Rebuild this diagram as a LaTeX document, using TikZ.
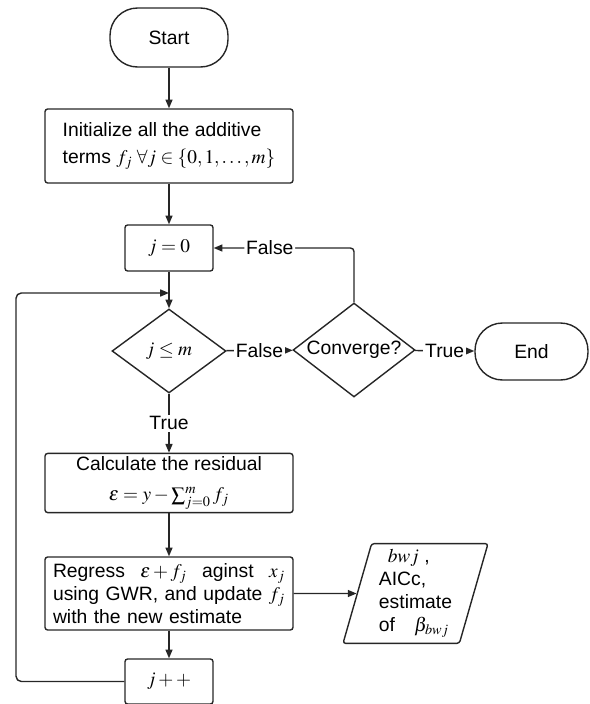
\documentclass[tikz,border=0pt]{standalone}
\usepackage{mathptmx}
\usepackage[no-math]{fontspec}
\setmainfont{Liberation Sans}
\usetikzlibrary{positioning,arrows.meta,shapes.geometric}

\begin{document}
\begin{tikzpicture}[
  x=0.02cm, y=-0.02cm,
  font=\fontsize{11}{13}\selectfont,
  box/.style={rectangle, rounded corners=1.5pt, draw=black!85, line width=0.8pt,
              inner sep=2pt},
  term/.style={rectangle, rounded corners=0.55cm, draw=black!85, line width=0.8pt},
  gate/.style={diamond, draw=black!85, line width=0.8pt, inner sep=0pt},
  io/.style={trapezium, trapezium left angle=74, trapezium right angle=106,
             trapezium stretches body, rounded corners=1.5pt, draw=black!85,
             line width=0.8pt, align=left},
  lbl/.style={fill=white, inner sep=1pt},
  arrow/.style={-{Triangle[length=5pt,width=4pt]}, draw=black!85, line width=0.8pt}
]
\useasboundingbox (0,0) rectangle (590,704);

% Terminals
\node[term, minimum width=2.36cm, minimum height=1.18cm] (start) at (169,37.5) {Start};
\node[term, minimum width=2.26cm, minimum height=1.14cm] (end) at (531.5,351.5) {End};

% Setup
\node[box, minimum width=4.96cm, minimum height=1.48cm, align=left] (init) at (169,146)
  {Initialize all the additive\\[2pt]terms $f_j\;\forall j \in \{0,1,\ldots,m\}$};
\node[box, minimum width=1.76cm, minimum height=0.92cm] (jzero) at (169,248) {$j=0$};

% Gates
\node[gate, aspect=1.36, minimum width=2.28cm, minimum height=1.68cm] (test) at (169,351) {$j \le m$};
\node[gate, aspect=1.3, minimum width=2.44cm, minimum height=1.88cm] (conv) at (354,350) {Converge?};

% Inner loop body
\node[box, minimum width=4.96cm, minimum height=1.08cm, align=center] (calc) at (169,483)
  {Calculate the residual\\[4pt]$\varepsilon = y - \sum_{j=0}^{m} f_j$};
\node[box, minimum width=4.96cm, minimum height=1.46cm, text width=4.64cm, align=left] (regress) at (169,593.5)
  {\makebox[4.64cm][l]{Regress\hfill$\varepsilon+f_j$\hfill aginst\hfill$x_j$}\\
   \makebox[4.64cm][l]{using GWR, and update\hfill$f_j$}\\
   with the new estimate};
\node[box, minimum width=1.76cm, minimum height=0.9cm] (incr) at (169,681.5) {$j++$};

% Output
\node[io, minimum width=2.9cm, minimum height=1.86cm] (output) at (415.5,593.5)
  {\hspace{5pt}$bwj$ ,\\AICc,\\estimate\\of\quad$\beta_{bwj}$};

% Loop points
\coordinate (merge) at (169,293);
\coordinate (back) at (16,293);

% Arrows
\draw[arrow] (start) -- (init);
\draw[arrow] (init) -- (jzero);
\draw[arrow] (jzero) -- (test);
\draw[arrow] (test) -- node[lbl] {False} (conv);
\draw[arrow] (conv) -- node[lbl] {True} (end);
\draw[arrow, rounded corners=2pt] (conv.north) |- node[lbl, pos=0.8] {False} (jzero.east);
\draw[arrow] (test) -- node[lbl] {True} (calc);
\draw[arrow] (calc) -- (regress);
\draw[arrow] (regress) -- (incr);
\draw[arrow] (regress) -- (output);
\draw[arrow, rounded corners=3pt] (incr.west) -| (back) -- (merge);

\end{tikzpicture}
\end{document}
